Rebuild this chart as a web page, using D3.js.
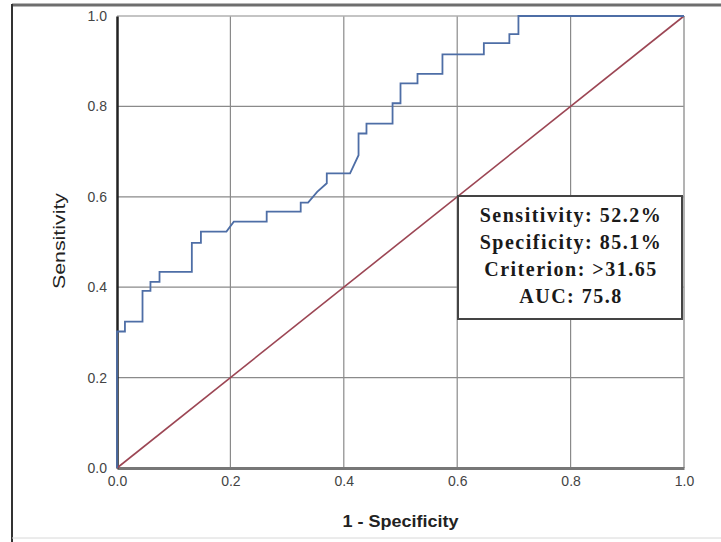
<!DOCTYPE html>
<html>
<head>
<meta charset="utf-8">
<script src="https://cdn.jsdelivr.net/npm/d3@7"></script>
<style>
  body { margin: 0; background: #fff; }
  svg { display: block; }
</style>
</head>
<body>
<div id="chart"></div>
<script>
// ROC curve vertices (1 - specificity, sensitivity)
var fpr = [0, 0, 0.014, 0.014, 0.045, 0.045, 0.059, 0.059, 0.075, 0.075,
           0.132, 0.132, 0.148, 0.148, 0.193, 0.206, 0.264, 0.264, 0.324, 0.324,
           0.337, 0.353, 0.370, 0.370, 0.411, 0.426, 0.426, 0.440, 0.440, 0.486,
           0.486, 0.500, 0.500, 0.530, 0.530, 0.574, 0.574, 0.647, 0.647, 0.692,
           0.692, 0.708, 0.708, 1.0];
var tpr = [0, 0.302, 0.302, 0.324, 0.324, 0.392, 0.392, 0.412, 0.412, 0.434,
           0.434, 0.498, 0.498, 0.523, 0.523, 0.545, 0.545, 0.567, 0.567, 0.587,
           0.587, 0.611, 0.630, 0.652, 0.652, 0.692, 0.740, 0.740, 0.762, 0.762,
           0.807, 0.807, 0.851, 0.851, 0.872, 0.872, 0.915, 0.915, 0.940, 0.940,
           0.960, 0.960, 1.0, 1.0];
var refLine = [[0, 0], [1, 1]];
var xTicks = [0, 0.2, 0.4, 0.6, 0.8, 1.0];
var yTicks = [0, 0.2, 0.4, 0.6, 0.8, 1.0];
var boxLines = ["Sensitivity: 52.2%", "Specificity: 85.1%", "Criterion: >31.65", "AUC: 75.8"];

var W = 721, H = 542;
var margin = {top: 16, right: 37, bottom: 74, left: 117};
var width = W - margin.left - margin.right,
    height = H - margin.top - margin.bottom;

var svg = d3.select("#chart").append("svg")
    .attr("width", W)
    .attr("height", H);

// outer frame
svg.append("line").attr("x1", 12).attr("x2", W).attr("y1", 5).attr("y2", 5)
    .attr("stroke", "#6e6e6e").attr("stroke-width", 3);
svg.append("line").attr("x1", 12).attr("x2", 12).attr("y1", 4).attr("y2", H)
    .attr("stroke", "#333").attr("stroke-width", 2);
svg.append("line").attr("x1", 12).attr("x2", W).attr("y1", 538).attr("y2", 538)
    .attr("stroke", "#d8d8d8").attr("stroke-width", 1);

var g = svg.append("g")
    .attr("transform", "translate(" + margin.left + "," + margin.top + ")");

var x = d3.scaleLinear().domain([0, 1]).range([0, width]);
var y = d3.scaleLinear().domain([0, 1]).range([height, 0]);

// grid
g.append("g")
  .selectAll("line")
  .data(xTicks.slice(1, -1))
  .enter().append("line")
    .attr("x1", function (d) { return x(d); })
    .attr("x2", function (d) { return x(d); })
    .attr("y1", 0).attr("y2", height)
    .attr("stroke", "#8a8a8a").attr("stroke-width", 1.2);
g.append("g")
  .selectAll("line")
  .data(yTicks.slice(1, -1))
  .enter().append("line")
    .attr("x1", 0).attr("x2", width)
    .attr("y1", function (d) { return y(d); })
    .attr("y2", function (d) { return y(d); })
    .attr("stroke", "#8a8a8a").attr("stroke-width", 1.2);

// plot frame: top and right light, left and bottom dark
g.append("line").attr("x1", 0).attr("x2", width).attr("y1", 0).attr("y2", 0)
    .attr("stroke", "#b0b0b0").attr("stroke-width", 1.5);
g.append("line").attr("x1", width).attr("x2", width).attr("y1", 0).attr("y2", height)
    .attr("stroke", "#9a9a9a").attr("stroke-width", 1.5);

// axes
var xAxis = g.append("g")
    .attr("transform", "translate(0," + height + ")")
    .call(d3.axisBottom(x).tickValues(xTicks).tickFormat(d3.format(".1f")).tickSize(0).tickPadding(8));
var yAxis = g.append("g")
    .call(d3.axisLeft(y).tickValues(yTicks).tickFormat(d3.format(".1f")).tickSize(0).tickPadding(10));

xAxis.select(".domain").attr("stroke", "#777").attr("stroke-width", 3);
yAxis.select(".domain").attr("stroke", "#222").attr("stroke-width", 2.5);
[xAxis, yAxis].forEach(function (a) {
  a.selectAll("text")
    .attr("font-family", "Liberation Sans, Arial, sans-serif")
    .attr("font-size", 14)
    .attr("fill", "#444");
});

// reference diagonal
var line = d3.line()
    .x(function (d) { return x(d[0]); })
    .y(function (d) { return y(d[1]); });

g.append("path")
    .datum(refLine)
    .attr("d", line)
    .attr("fill", "none")
    .attr("stroke", "#9c4654")
    .attr("stroke-width", 1.6);

// ROC curve
var roc = fpr.map(function (d, i) { return [d, tpr[i]]; });
g.append("path")
    .datum(roc)
    .attr("d", line)
    .attr("fill", "none")
    .attr("stroke", "#4e6ea6")
    .attr("stroke-width", 1.8);

// annotation box
var bx = 458 - margin.left, by = 196 - margin.top, bw = 224, bh = 123;
g.append("rect")
    .attr("x", bx).attr("y", by).attr("width", bw).attr("height", bh)
    .attr("fill", "#fff").attr("stroke", "#444").attr("stroke-width", 2);
g.append("g")
  .selectAll("text")
  .data(boxLines)
  .enter().append("text")
    .attr("x", bx + bw / 2 + 1)
    .attr("y", function (d, i) { return by + 26 + i * 27; })
    .attr("text-anchor", "middle")
    .attr("font-family", "Liberation Serif, Times New Roman, serif")
    .attr("font-weight", "bold")
    .attr("font-size", 20)
    .attr("letter-spacing", 1.5)
    .attr("fill", "#1a1a1a")
    .text(function (d) { return d; });

// axis titles
svg.append("text")
    .attr("x", margin.left + width / 2)
    .attr("y", 527)
    .attr("text-anchor", "middle")
    .attr("font-family", "Liberation Sans, Arial, sans-serif")
    .attr("font-weight", "bold")
    .attr("font-size", 17)
    .attr("textLength", 116)
    .attr("lengthAdjust", "spacingAndGlyphs")
    .attr("fill", "#222")
    .text("1 - Specificity");

svg.append("text")
    .attr("transform", "translate(65,241) rotate(-90)")
    .attr("text-anchor", "middle")
    .attr("font-family", "Liberation Sans, Arial, sans-serif")
    .attr("font-size", 17)
    .attr("textLength", 96)
    .attr("lengthAdjust", "spacingAndGlyphs")
    .attr("fill", "#222")
    .text("Sensitivity");
</script>
</body>
</html>
